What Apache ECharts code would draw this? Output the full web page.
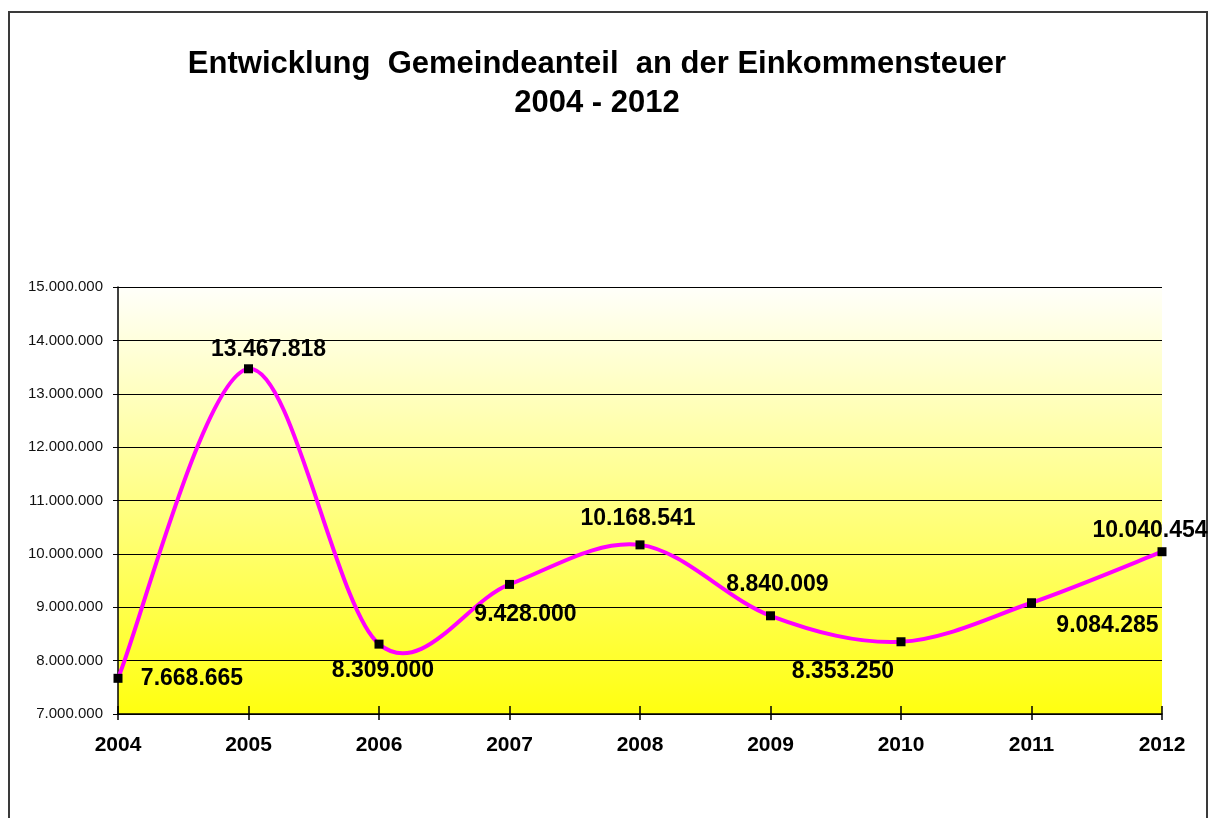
<!DOCTYPE html>
<html><head><meta charset="utf-8">
<script src="https://cdn.jsdelivr.net/npm/echarts@6/dist/echarts.min.js"></script>
<style>html,body{margin:0;padding:0;background:#fff}#c{width:1211px;height:818px}</style>
</head><body><div id="c"></div>
<script>
const titleText = 'Entwicklung  Gemeindeanteil  an der Einkommensteuer\n2004 - 2012';
const years = ['2004','2005','2006','2007','2008','2009','2010','2011','2012'];
const values = [7668665, 13467818, 8309000, 9428000, 10168541, 8840009, 8353250, 9084285, 10040454];
const yTicks = [7000000, 8000000, 9000000, 10000000, 11000000, 12000000, 13000000, 14000000, 15000000];

function fmt(v){ return String(Math.round(v)).replace(/\B(?=(\d{3})+(?!\d))/g, '.'); }

// label offsets (px) relative to each point
const labelOffsets = [[74,0],[20,-19],[4,27],[16,30],[-2,-26],[7,-31],[-58,30],[76,23],[-12,-21]];

const chart = echarts.init(document.getElementById('c'), null, {renderer:'canvas'});
const font = '"Liberation Sans", Arial, sans-serif';
const n = values.length;

function renderSeg(params, api){
  const i = params.dataIndex;
  if (i >= n - 1) return null;
  const P = k => api.coord([Math.max(0, Math.min(n-1, k)), values[Math.max(0, Math.min(n-1, k))]]);
  const p0 = P(i-1), p1 = P(i), p2 = P(i+1), p3 = P(i+2);
  return {
    type:'bezierCurve',
    shape:{x1:p1[0], y1:p1[1], x2:p2[0], y2:p2[1],
      cpx1:p1[0] + (p2[0]-p0[0])/6, cpy1:p1[1] + (p2[1]-p0[1])/6,
      cpx2:p2[0] - (p3[0]-p1[0])/6, cpy2:p2[1] - (p3[1]-p1[1])/6},
    style:{stroke:'#FF00FF', lineWidth:4, fill:null, lineCap:'round'}
  };
}

chart.setOption({
  animation:false,
  backgroundColor:'#fff',
  title:{
    text:titleText, left:592, top:40, textAlign:'center',
    textStyle:{fontFamily:font, fontWeight:'bold', fontSize:31, lineHeight:39, color:'#000'}
  },
  graphic:[{type:'rect', shape:{x:9,y:12,width:1198,height:820}, style:{fill:'none', stroke:'#3a3a3a', lineWidth:2}, silent:true, z:-1}],
  grid:{left:118, right:49, top:287, bottom:104, show:true, borderWidth:0,
    backgroundColor:{type:'linear',x:0,y:0,x2:0,y2:1,colorStops:[{offset:0,color:'#FFFFFA'},{offset:1,color:'#FFFF10'}]}},
  xAxis:[{
    type:'category', data:years, boundaryGap:false,
    axisLine:{lineStyle:{color:'#000', width:1.5}},
    axisTick:{show:true, inside:false, length:6, lineStyle:{color:'#000', width:1.5}},
    axisLabel:{fontFamily:font, fontWeight:'bold', fontSize:21, color:'#000', margin:21},
    splitLine:{show:false}
  },{
    type:'category', data:years, boundaryGap:false, position:'bottom',
    axisLine:{show:false},
    axisTick:{show:true, inside:true, length:8, lineStyle:{color:'#000', width:1.5}},
    axisLabel:{show:false}, splitLine:{show:false}
  }],
  yAxis:{
    type:'value', min:yTicks[0], max:yTicks[yTicks.length-1], interval:1000000,
    axisLine:{show:true, lineStyle:{color:'#000', width:1.5}},
    axisTick:{show:true, length:5, lineStyle:{color:'#000'}},
    axisLabel:{fontFamily:font, fontSize:15, color:'#111', margin:15, formatter:fmt},
    splitLine:{show:true, lineStyle:{color:'#000', width:1}}
  },
  series:[{
    type:'custom', xAxisIndex:0, renderItem:renderSeg,
    data:values.map((v,i)=>[i,v]), z:3, silent:true
  },{
    type:'line', data:values.map((v,i)=>({value:v, label:{offset:labelOffsets[i]}})),
    xAxisIndex:0,
    lineStyle:{width:0, opacity:0},
    symbol:'rect', symbolSize:9, itemStyle:{color:'#000'},
    label:{show:true, position:'inside', formatter:p=>fmt(p.value),
      fontFamily:font, fontWeight:'bold', fontSize:23, color:'#000', align:'center', verticalAlign:'middle'},
    z:5
  }]
});
</script></body></html>
